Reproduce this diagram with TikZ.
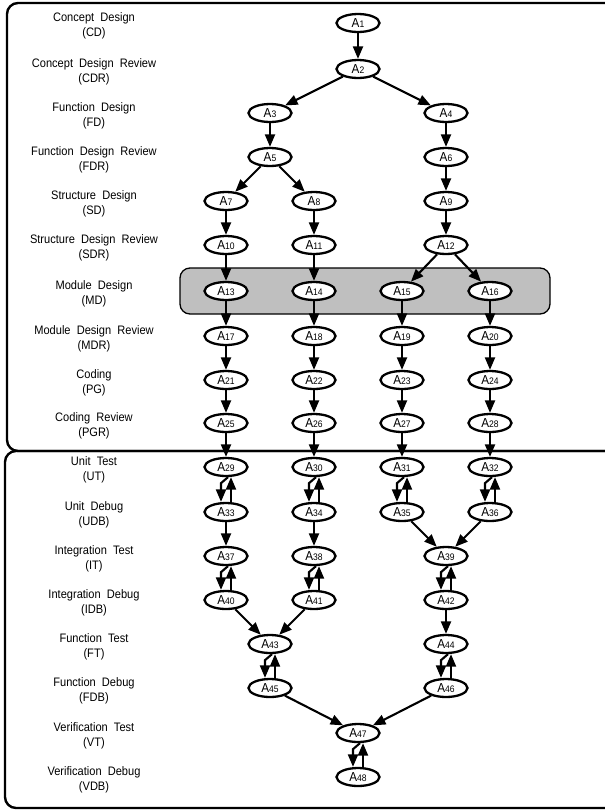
\documentclass[tikz,border=0pt]{standalone}
\usepackage{fontspec}
\setmainfont{Liberation Sans}[FakeStretch=0.9]
\usetikzlibrary{shapes.geometric,arrows.meta}
\newcommand\actlbl[1]{A\raisebox{-0.8pt}{\fontsize{9.5}{9.5}\selectfont #1}}
\newcommand\bidir[2]{%
  \draw[arr] ([xshift=2pt]#1.south) -- ++(-7,6) -- ([xshift=-5pt]#2.north);
  \draw[arr] ([xshift=5pt]#2.north) -- ([xshift=5pt]#1.south);}
\begin{document}
\begin{tikzpicture}[x=1pt,y=-1pt,
  act/.style={ellipse,draw,line width=2.3pt,minimum width=43pt,minimum height=18pt,inner sep=0pt,fill=white,font=\fontsize{13}{13}\selectfont},
  arr/.style={line width=2.1pt,-{Triangle[length=12.5pt,width=10pt]}},
  lbl/.style={align=center,font=\fontsize{12.3}{15.5}\selectfont},
  frame/.style={line width=2.4pt,rounded corners=11pt},
  graybox/.style={fill=gray!50,draw,line width=1.3pt,rounded corners=10pt}]
\useasboundingbox (0,0) rectangle (605,812);
\clip (0,0) rectangle (605,812);

% frames
\draw[frame] (7,3) rectangle (616,451);
\draw[frame] (5,451) rectangle (616,808);
\draw[graybox] (180,268) rectangle (550,314);

% labels
\node[lbl] (l1) at (94,26) {Concept~ Design\\(CD)};
\node[lbl] (l2) at (94,72) {Concept~ Design~ Review\\(CDR)};
\node[lbl] (l3) at (94,116) {Function~ Design\\(FD)};
\node[lbl] (l4) at (94,160) {Function~ Design~ Review\\(FDR)};
\node[lbl] (l5) at (94,204) {Structure~ Design\\(SD)};
\node[lbl] (l6) at (94,248) {Structure~ Design~ Review\\(SDR)};
\node[lbl] (l7) at (94,294) {Module~ Design\\(MD)};
\node[lbl] (l8) at (94,339) {Module~ Design~ Review\\(MDR)};
\node[lbl] (l9) at (94,383) {Coding\\(PG)};
\node[lbl] (l10) at (94,426) {Coding~ Review\\(PGR)};
\node[lbl] (l11) at (94,470) {Unit~ Test\\(UT)};
\node[lbl] (l12) at (94,515) {Unit~ Debug\\(UDB)};
\node[lbl] (l13) at (94,559) {Integration~ Test\\(IT)};
\node[lbl] (l14) at (94,603) {Integration~ Debug\\(IDB)};
\node[lbl] (l15) at (94,647) {Function~ Test\\(FT)};
\node[lbl] (l16) at (94,691) {Function~ Debug\\(FDB)};
\node[lbl] (l17) at (94,736) {Verification~ Test\\(VT)};
\node[lbl] (l18) at (94,780) {Verification~ Debug\\(VDB)};

% nodes
\node[act] (a1) at (358,23) {\actlbl{1}};
\node[act] (a2) at (358,69) {\actlbl{2}};
\node[act] (a3) at (270,113) {\actlbl{3}};
\node[act] (a4) at (446,113) {\actlbl{4}};
\node[act] (a5) at (270,157) {\actlbl{5}};
\node[act] (a6) at (446,157) {\actlbl{6}};
\node[act] (a7) at (226,201) {\actlbl{7}};
\node[act] (a8) at (314,201) {\actlbl{8}};
\node[act] (a9) at (446,201) {\actlbl{9}};
\node[act] (a10) at (226,245) {\actlbl{10}};
\node[act] (a11) at (314,245) {\actlbl{11}};
\node[act] (a12) at (446,245) {\actlbl{12}};
\node[act] (a13) at (226,291) {\actlbl{13}};
\node[act] (a14) at (314,291) {\actlbl{14}};
\node[act] (a15) at (402,291) {\actlbl{15}};
\node[act] (a16) at (490,291) {\actlbl{16}};
\node[act] (a17) at (226,336) {\actlbl{17}};
\node[act] (a18) at (314,336) {\actlbl{18}};
\node[act] (a19) at (402,336) {\actlbl{19}};
\node[act] (a20) at (490,336) {\actlbl{20}};
\node[act] (a21) at (226,380) {\actlbl{21}};
\node[act] (a22) at (314,380) {\actlbl{22}};
\node[act] (a23) at (402,380) {\actlbl{23}};
\node[act] (a24) at (490,380) {\actlbl{24}};
\node[act] (a25) at (226,423) {\actlbl{25}};
\node[act] (a26) at (314,423) {\actlbl{26}};
\node[act] (a27) at (402,423) {\actlbl{27}};
\node[act] (a28) at (490,423) {\actlbl{28}};
\node[act] (a29) at (226,467) {\actlbl{29}};
\node[act] (a30) at (314,467) {\actlbl{30}};
\node[act] (a31) at (402,467) {\actlbl{31}};
\node[act] (a32) at (490,467) {\actlbl{32}};
\node[act] (a33) at (226,512) {\actlbl{33}};
\node[act] (a34) at (314,512) {\actlbl{34}};
\node[act] (a35) at (402,512) {\actlbl{35}};
\node[act] (a36) at (490,512) {\actlbl{36}};
\node[act] (a37) at (226,556) {\actlbl{37}};
\node[act] (a38) at (314,556) {\actlbl{38}};
\node[act] (a39) at (446,556) {\actlbl{39}};
\node[act] (a40) at (226,600) {\actlbl{40}};
\node[act] (a41) at (314,600) {\actlbl{41}};
\node[act] (a42) at (446,600) {\actlbl{42}};
\node[act] (a43) at (270,644) {\actlbl{43}};
\node[act] (a44) at (446,644) {\actlbl{44}};
\node[act] (a45) at (270,688) {\actlbl{45}};
\node[act] (a46) at (446,688) {\actlbl{46}};
\node[act] (a47) at (358,733) {\actlbl{47}};
\node[act] (a48) at (358,777) {\actlbl{48}};

% single arrows
\draw[arr] (a1) -- (a2);
\draw[arr] (a2) -- (a3);
\draw[arr] (a2) -- (a4);
\draw[arr] (a3) -- (a5);
\draw[arr] (a4) -- (a6);
\draw[arr] (a5) -- (a7);
\draw[arr] (a5) -- (a8);
\draw[arr] (a6) -- (a9);
\draw[arr] (a7) -- (a10);
\draw[arr] (a8) -- (a11);
\draw[arr] (a9) -- (a12);
\draw[arr] (a10) -- (a13);
\draw[arr] (a11) -- (a14);
\draw[arr] (a12) -- (a15);
\draw[arr] (a12) -- (a16);
\draw[arr] (a13) -- (a17);
\draw[arr] (a14) -- (a18);
\draw[arr] (a15) -- (a19);
\draw[arr] (a16) -- (a20);
\draw[arr] (a17) -- (a21);
\draw[arr] (a18) -- (a22);
\draw[arr] (a19) -- (a23);
\draw[arr] (a20) -- (a24);
\draw[arr] (a21) -- (a25);
\draw[arr] (a22) -- (a26);
\draw[arr] (a23) -- (a27);
\draw[arr] (a24) -- (a28);
\draw[arr] (a25) -- (a29);
\draw[arr] (a26) -- (a30);
\draw[arr] (a27) -- (a31);
\draw[arr] (a28) -- (a32);
\draw[arr] (a33) -- (a37);
\draw[arr] (a34) -- (a38);
\draw[arr] (a35) -- (a39);
\draw[arr] (a36) -- (a39);
\draw[arr] (a40) -- (a43);
\draw[arr] (a41) -- (a43);
\draw[arr] (a42) -- (a44);
\draw[arr] (a45) -- (a47);
\draw[arr] (a46) -- (a47);

% test/debug loops
\bidir{a29}{a33}
\bidir{a30}{a34}
\bidir{a31}{a35}
\bidir{a32}{a36}
\bidir{a37}{a40}
\bidir{a38}{a41}
\bidir{a39}{a42}
\bidir{a43}{a45}
\bidir{a44}{a46}
\bidir{a47}{a48}
\end{tikzpicture}
\end{document}
